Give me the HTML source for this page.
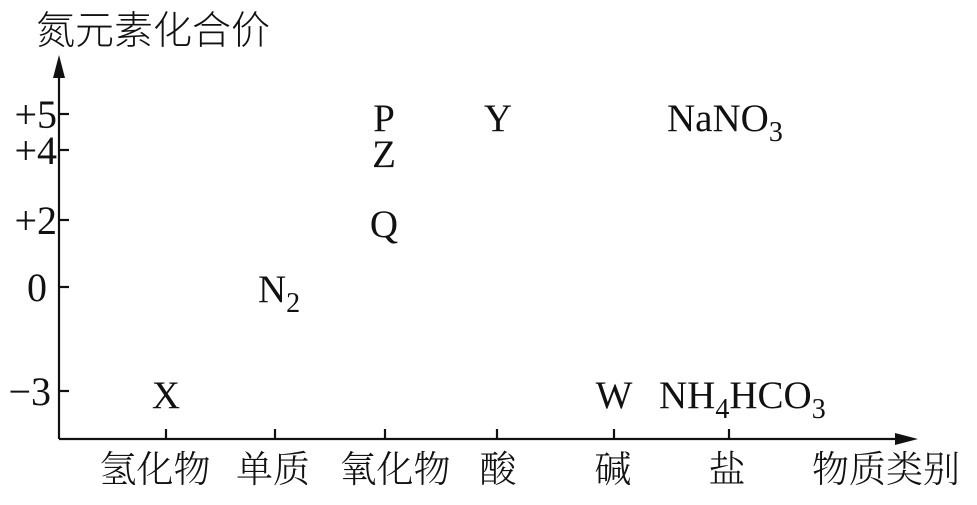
<!DOCTYPE html>
<html><head><meta charset="utf-8"><style>
body{margin:0;background:#fff;}
svg text{font-family:"Liberation Serif","Noto Serif CJK SC",serif;fill:#111;}
.cj{font-family:"Liberation Sans","Noto Sans CJK SC",sans-serif;font-weight:300;}
</style></head><body>
<svg width="977" height="500" viewBox="0 0 977 500">
<g stroke="#111" stroke-width="2.2" fill="none">
<line x1="59" y1="439" x2="59" y2="70"/>
<line x1="59" y1="439" x2="905" y2="439"/>
<line x1="59" y1="114" x2="69" y2="114"/>
<line x1="59" y1="150" x2="69" y2="150"/>
<line x1="59" y1="220" x2="69" y2="220"/>
<line x1="59" y1="287" x2="69" y2="287"/>
<line x1="59" y1="391" x2="69" y2="391"/>
<line x1="166" y1="439" x2="166" y2="429"/>
<line x1="275" y1="439" x2="275" y2="429"/>
<line x1="385" y1="439" x2="385" y2="429"/>
<line x1="497" y1="439" x2="497" y2="429"/>
<line x1="614" y1="439" x2="614" y2="429"/>
<line x1="729" y1="439" x2="729" y2="429"/>
</g>
<polygon points="59,55 53,78 65,78" fill="#111"/>
<polygon points="918,439 895,433 895,445" fill="#111"/>
<text class="cj" x="36" y="44" font-size="39">氮元素化合价</text>
<g font-size="40" text-anchor="end">
<text x="57" y="128">+5</text>
<text x="57" y="164">+4</text>
<text x="57" y="234">+2</text>
<text x="47" y="301">0</text>
<text x="51" y="405">−3</text>
</g>
<g font-size="39" text-anchor="middle">
<text x="384" y="131">P</text>
<text x="384" y="167">Z</text>
<text x="384" y="237">Q</text>
<text x="498" y="131">Y</text>
<text x="166" y="408">X</text>
<text x="614" y="408">W</text>
</g>
<text x="258" y="302" font-size="39">N<tspan font-size="28" dy="10">2</tspan></text>
<text x="667" y="131" font-size="39">NaNO<tspan font-size="28" dy="10">3</tspan></text>
<text x="659" y="408" font-size="39">NH<tspan font-size="28" dy="10">4</tspan><tspan dy="-10">HCO</tspan><tspan font-size="28" dy="10">3</tspan></text>
<g class="cj" font-size="37" text-anchor="middle">
<text x="155" y="482">氢化物</text>
<text x="273" y="482">单质</text>
<text x="395" y="482">氧化物</text>
<text x="498" y="482">酸</text>
<text x="613" y="482">碱</text>
<text x="727" y="482">盐</text>
<text x="886" y="482">物质类别</text>
</g>
</svg>
</body></html>
